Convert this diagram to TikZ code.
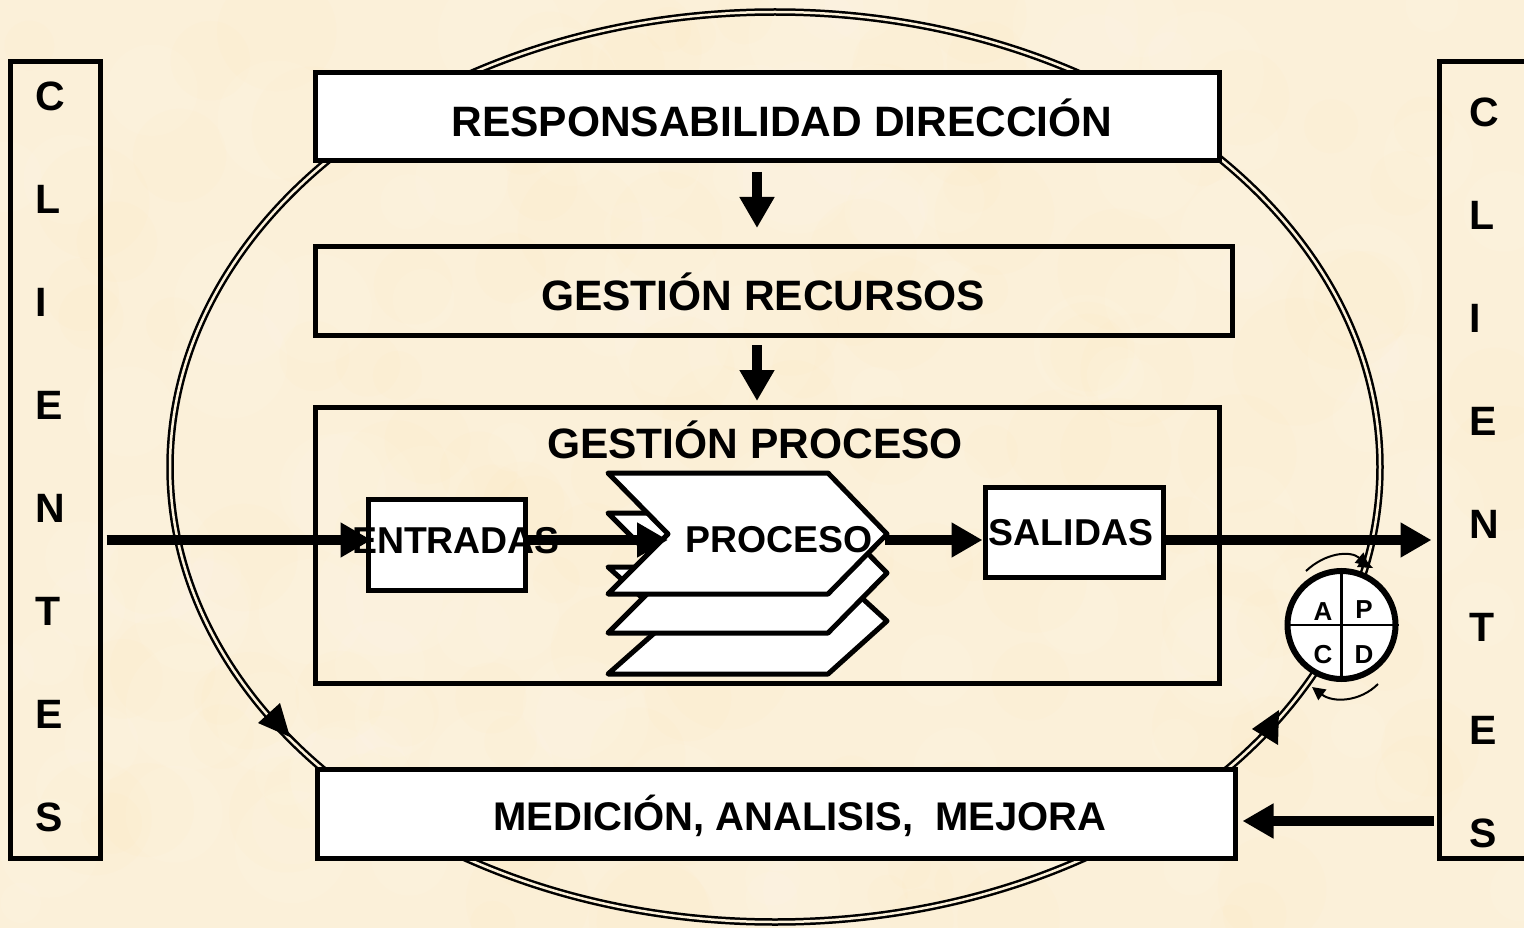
\documentclass[tikz,border=0pt]{standalone}
\usepackage{fontspec}
\setmainfont{Liberation Sans}
\usetikzlibrary{arrows.meta,calc}
\definecolor{paper}{HTML}{FBF0D9}
\tikzset{
  box/.style={draw=black,line width=5pt,inner sep=0pt,fill=#1},
  box/.default=white,
  open box/.style={draw=black,line width=5pt,inner sep=0pt},
  label/.style={inner sep=0pt,font=\fontsize{41}{41}\bfseries\selectfont},
  big/.style={inner sep=0pt,anchor=base,font=\fontsize{42.5}{42.5}\bfseries\selectfont},
  med text/.style={inner sep=0pt,anchor=base,font=\fontsize{40}{40}\bfseries\selectfont},
  small/.style={inner sep=0pt,font=\fontsize{37.4}{37.4}\bfseries\selectfont},
  pdca/.style={inner sep=0pt,font=\fontsize{26}{26}\bfseries\selectfont},
  flow/.style={line width=10pt,-{Triangle[length=31pt,width=33pt]}},
  ring/.style={draw=black,line width=2.5pt,double=paper,double distance=2.5pt},
  layer/.style={draw=black,fill=white,line width=5pt,line join=round},
  thin arc/.style={draw=black,line width=2pt,-{Triangle[length=13pt,width=13pt]}}
}
\begin{document}
\begin{tikzpicture}[x=1pt,y=-1pt]
\useasboundingbox (0,0) rectangle (1524,928);
\fill[paper] (0,0) rectangle (1524,928);
% paper mottling
\pgfmathsetseed{7}
\foreach \i in {1,...,260}{
  \pgfmathsetmacro{\px}{rnd*1524}
  \pgfmathsetmacro{\py}{rnd*928}
  \pgfmathsetmacro{\pr}{20+rnd*45}
  \pgfmathsetmacro{\pk}{rnd>0.5 ? 1 : 0}
  \ifdim\pk pt>0.5pt
    \fill[white,opacity=.07] (\px,\py) circle (\pr);
  \else
    \fill[yellow!45!orange!40,opacity=.035] (\px,\py) circle (\pr);
  \fi
}
% ellipse
\draw[ring] (775,467) ellipse [x radius=605,y radius=455];
% boxes
\node[open box,minimum width=90pt,minimum height=796pt] (cl) at (55,460) {};
\node[open box,minimum width=90pt,minimum height=796pt] (cr) at (1484,460) {};
\node[box,minimum width=904pt,minimum height=88pt] (resp) at (767,117) {};
\node[open box,minimum width=917pt,minimum height=88pt] (rec) at (773.5,291) {};
\node[open box,minimum width=904pt,minimum height=276pt] (proc) at (767,545) {};
\node[box,minimum width=918pt,minimum height=89pt] (med) at (776,813.5) {};
\node[box,minimum width=157pt,minimum height=91pt] (ent) at (446.5,544.5) {};
\node[box,minimum width=178pt,minimum height=90pt] (sal) at (1074,532) {};
% layers
\draw[layer] (608,567) -- (828,567) -- (887,621) -- (828,674) -- (608,674) -- (668,621) -- cycle;
\draw[layer] (608,513) -- (828,513) -- (887,573) -- (828,633) -- (608,633) -- (668,573) -- cycle;
\draw[layer] (608,473) -- (828,473) -- (887,534) -- (828,594) -- (608,594) -- (668,534) -- cycle;
\coordinate (procin) at (668,540);
\coordinate (procout) at (885,540);
% flows
\draw[flow] ([xshift=4pt]cl.east |- 0,540) -- ([xshift=6pt]ent.west |- 0,540);
\draw[flow] (ent.east |- 0,540) -- (procin);
\draw[flow] (procout) -- (sal.west |- 0,540);
\draw[flow] (sal.east |- 0,540) -- ([xshift=-5pt]cr.west |- 0,540);
\draw[flow] ([xshift=-3pt]cr.west |- 0,821) -- ([xshift=5pt]med.east |- 0,821);
\draw[flow] ([yshift=-8.5pt]resp.south -| 757,0) -- ([yshift=16.5pt]rec.north -| 757,0);
\draw[flow] ([yshift=-7.5pt]rec.south -| 757,0) -- ([yshift=3.5pt]proc.north -| 757,0);
% text
\node[label,align=left,anchor=west] (tl) at (35,456.5) {C\\[62pt]L\\[62pt]I\\[62pt]E\\[62pt]N\\[62pt]T\\[62pt]E\\[62pt]S};
\node[label,align=left,anchor=west] (tr) at (1469,472.5) {C\\[62pt]L\\[62pt]I\\[62pt]E\\[62pt]N\\[62pt]T\\[62pt]E\\[62pt]S};
\node[big] (tresp) at (782,137) {RESPONSABILIDAD DIRECCIÓN};
\node[big] (trec) at (763,310) {GESTIÓN RECURSOS};
\node[big] (tproc) at (755,458) {GESTIÓN PROCESO};
\node[med text] (tmed) at (800,830) {MEDICIÓN, ANALISIS,\ \ MEJORA};
\node[small] (tent) at (456,541) {ENTRADAS};
\node[small] (tpr) at (779,540) {PROCESO};
\node[small] (tsal) at (1071,533) {SALIDAS};
% ellipse arrowheads
\fill (1279,710) -- (1278,745) -- (1252,729) -- cycle;
\fill (280,703) -- (290,737) -- (258,723) -- cycle;
\fill (1363,557) -- (1373,568) -- (1357,567) -- cycle;
% PDCA
\node[circle,draw=black,fill=white,line width=6pt,minimum size=108pt,inner sep=0pt] (pd) at (1341.5,625) {};
\draw[line width=2.5pt] (pd.north) -- (pd.south);
\draw[line width=2.5pt] (pd.west) -- (pd.east);
\node[pdca] (a) at (1323,612) {A};
\node[pdca] (p) at (1364,610) {P};
\node[pdca] (c) at (1323,655) {C};
\node[pdca] (d) at (1364,655) {D};
\draw[thin arc] (1306,571) .. controls (1325,553) and (1350,550) .. (1369,566);
\draw[thin arc] (1378,684) .. controls (1360,702) and (1333,703) .. (1312,687);
\end{tikzpicture}
\end{document}
